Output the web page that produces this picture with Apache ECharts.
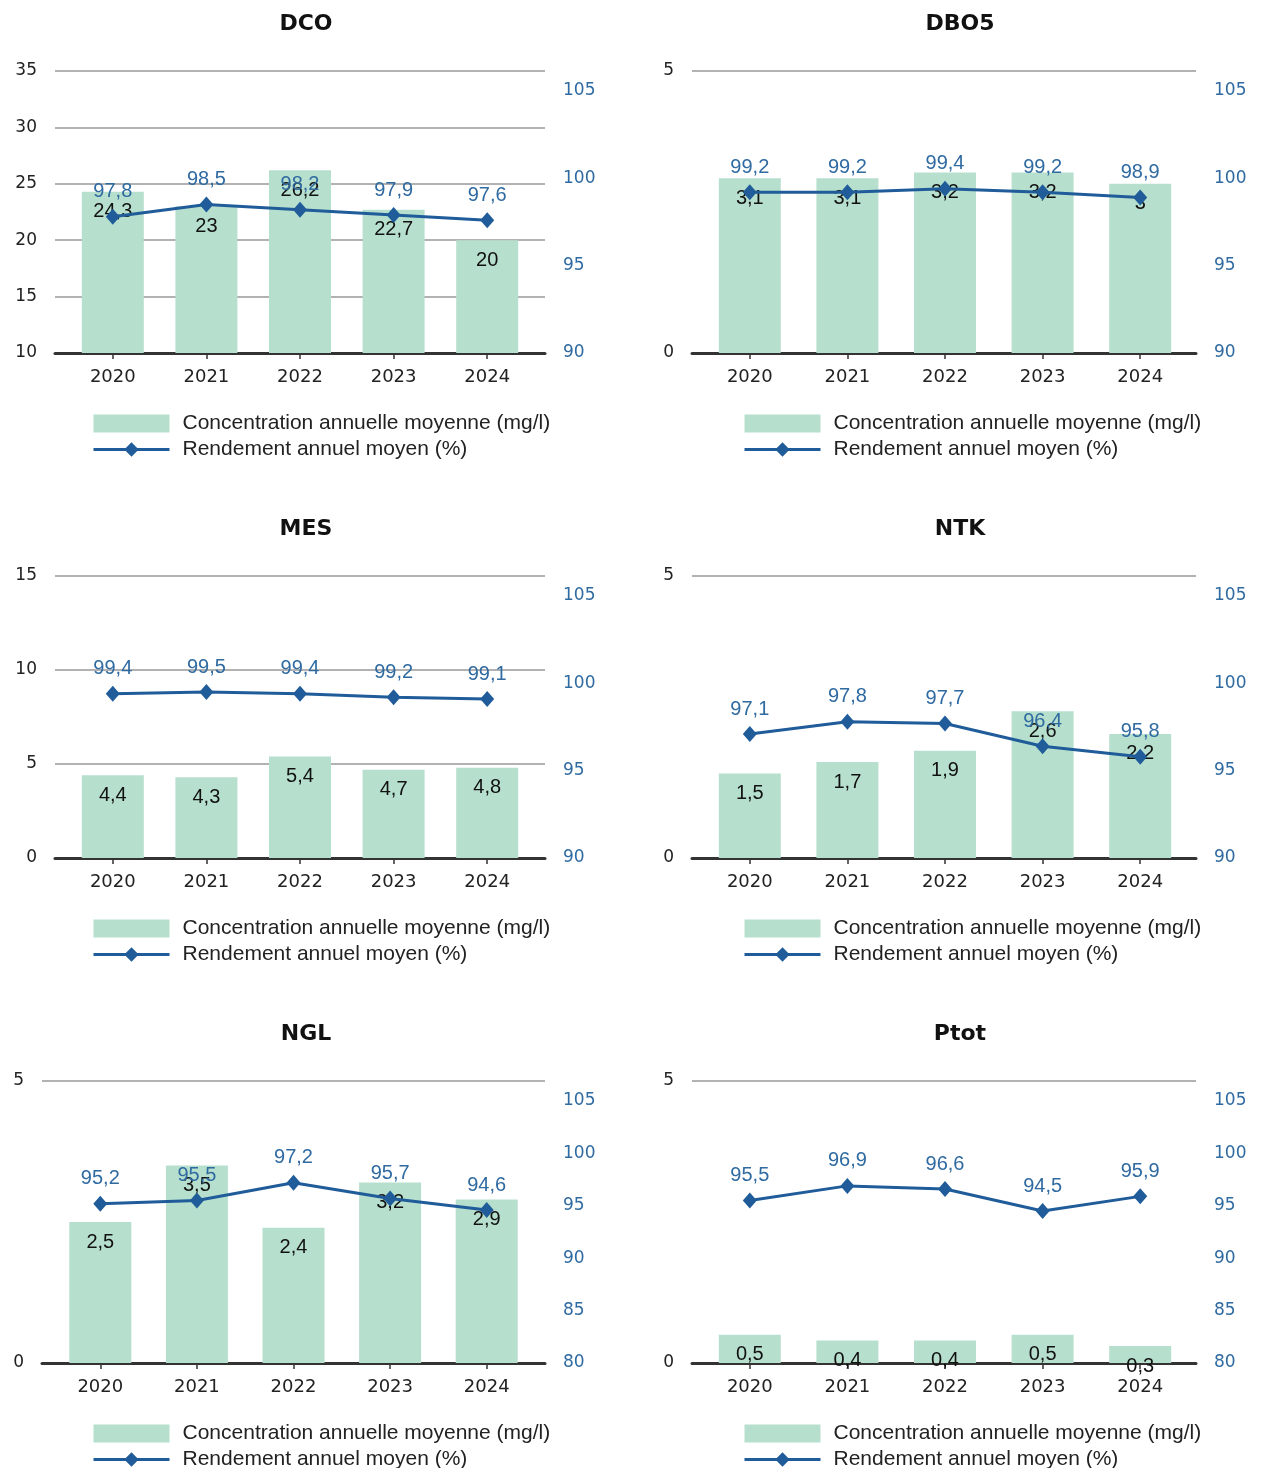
<!DOCTYPE html>
<html><head><meta charset="utf-8">
<script src="https://cdn.jsdelivr.net/npm/echarts/dist/echarts.min.js"></script>
<style>html,body{margin:0;padding:0;background:#fff;overflow:hidden}#c{width:1266px;height:1520px}</style>
</head><body><div id="c"></div>
<script>
// ---- data ----
const years = ['2020', '2021', '2022', '2023', '2024'];
const concName = 'Concentration annuelle moyenne (mg/l)';
const rendName = 'Rendement annuel moyen (%)';

const dcoConc = [24.3, 23, 26.2, 22.7, 20];
const dcoRend = [97.8, 98.5, 98.2, 97.9, 97.6];
const dbo5Conc = [3.1, 3.1, 3.2, 3.2, 3];
const dbo5Rend = [99.2, 99.2, 99.4, 99.2, 98.9];
const mesConc = [4.4, 4.3, 5.4, 4.7, 4.8];
const mesRend = [99.4, 99.5, 99.4, 99.2, 99.1];
const ntkConc = [1.5, 1.7, 1.9, 2.6, 2.2];
const ntkRend = [97.1, 97.8, 97.7, 96.4, 95.8];
const nglConc = [2.5, 3.5, 2.4, 3.2, 2.9];
const nglRend = [95.2, 95.5, 97.2, 95.7, 94.6];
const ptotConc = [0.5, 0.4, 0.4, 0.5, 0.3];
const ptotRend = [95.5, 96.9, 96.6, 94.5, 95.9];

// axis tick ranges [min, max, step]
const dcoConcTicks = [10, 35, 5];
const mesConcTicks = [0, 15, 5];
const smallConcTicks = [0, 5, 5];
const rendTicks90 = [90, 105, 5];
const rendTicks80 = [80, 105, 5];

// ---- layout ----
const charts = [
  {title: 'DCO',  conc: dcoConc,  rend: dcoRend,  cT: dcoConcTicks,   rT: rendTicks90, row: 0, col: 0},
  {title: 'DBO5', conc: dbo5Conc, rend: dbo5Rend, cT: smallConcTicks, rT: rendTicks90, row: 0, col: 1},
  {title: 'MES',  conc: mesConc,  rend: mesRend,  cT: mesConcTicks,   rT: rendTicks90, row: 1, col: 0},
  {title: 'NTK',  conc: ntkConc,  rend: ntkRend,  cT: smallConcTicks, rT: rendTicks90, row: 1, col: 1},
  {title: 'NGL',  conc: nglConc,  rend: nglRend,  cT: smallConcTicks, rT: rendTicks80, row: 2, col: 0, ngl: true},
  {title: 'Ptot', conc: ptotConc, rend: ptotRend, cT: smallConcTicks, rT: rendTicks80, row: 2, col: 1}
];

const BAR = '#b6dfcd', LINE = '#1f5c99', LBLUE = '#2f6aa1', DARK = '#222';
const fmt = v => String(v).replace('.', ',');
const PH = 282, TICKSPAN = 262;

const option = {
  animation: false, backgroundColor: '#fff',
  title: [], grid: [], xAxis: [], yAxis: [], series: [], legend: []
};

charts.forEach(c => {
  let gx, ix, tx, lx;
  if (c.col === 0) {
    gx = c.ngl ? [42, 545] : [55, 545];
    ix = c.ngl ? [52, 535] : [66, 534];
    tx = 306; lx = 92;
  } else {
    gx = [692, 1196]; ix = [701, 1189]; tx = 960; lx = 743;
  }
  const top = 71 + 505 * c.row;
  const g = option.grid.length, xa = option.xAxis.length, ya = option.yAxis.length;
  option.grid.push({left: gx[0], top: top, width: gx[1] - gx[0], height: PH, outerBoundsMode: 'none'});
  option.grid.push({left: ix[0], top: top, width: ix[1] - ix[0], height: PH, outerBoundsMode: 'none'});
  option.xAxis.push({type: 'value', gridIndex: g, min: 0, max: 1,
    axisLine: {show: true, onZero: false, lineStyle: {color: '#333', width: 3}},
    axisTick: {show: false}, axisLabel: {show: false}, splitLine: {show: false}});
  option.xAxis.push({type: 'category', gridIndex: g + 1, data: years,
    axisLine: {show: false, onZero: false},
    axisTick: {show: true, alignWithLabel: true, length: 6, lineStyle: {color: '#333', width: 1.5}},
    axisLabel: {interval: 0, margin: 15, color: DARK, fontFamily: 'DejaVu Sans', fontSize: 18}});
  option.yAxis.push({type: 'value', gridIndex: g, min: c.cT[0], max: c.cT[1], interval: c.cT[2],
    axisLine: {show: false}, axisTick: {show: false}, axisLabel: {show: false},
    splitLine: {show: true, lineStyle: {color: '#999', width: 1.5}}});
  option.yAxis.push({type: 'value', gridIndex: g + 1, position: 'left', min: c.cT[0], max: c.cT[1], interval: c.cT[2],
    axisLine: {show: false}, axisTick: {show: false}, splitLine: {show: false},
    axisLabel: {margin: 18 + ix[0] - gx[0], color: DARK, fontFamily: 'DejaVu Sans', fontSize: 17}});
  const rMax = c.rT[0] + (c.rT[1] - c.rT[0]) * PH / TICKSPAN;
  option.yAxis.push({type: 'value', gridIndex: g + 1, position: 'right', min: c.rT[0], max: rMax, interval: c.rT[2],
    axisLine: {show: false}, axisTick: {show: false}, splitLine: {show: false},
    axisLabel: {showMaxLabel: false, margin: 18 + gx[1] - ix[1], color: LBLUE, fontFamily: 'DejaVu Sans', fontSize: 17}});
  option.series.push({type: 'bar', name: concName, xAxisIndex: xa + 1, yAxisIndex: ya + 1, data: c.conc,
    barWidth: 62, itemStyle: {color: BAR},
    label: {show: true, position: 'insideTop', distance: 10, formatter: p => fmt(p.value),
      color: '#111', fontFamily: 'Liberation Sans', fontSize: 20}});
  option.series.push({type: 'line', name: rendName, xAxisIndex: xa + 1, yAxisIndex: ya + 2, data: c.rend,
    symbol: 'diamond', symbolSize: [14, 16], z: 3,
    lineStyle: {color: LINE, width: 3}, itemStyle: {color: LINE},
    label: {show: true, position: 'top', distance: 7, formatter: p => fmt(p.value),
      color: LBLUE, fontFamily: 'Liberation Sans', fontSize: 20}});
  option.title.push({text: c.title, left: tx, top: 13 + 505 * c.row, textAlign: 'center', padding: 0,
    textStyle: {fontFamily: 'DejaVu Sans', fontWeight: 'bold', fontSize: 22, color: '#111'}});
  option.legend.push({left: lx, top: 413 + 505 * c.row, orient: 'vertical', itemWidth: 76, itemHeight: 18, itemGap: 5,
    padding: 0, selectedMode: false,
    data: [{name: concName, icon: 'rect'}, {name: rendName, lineStyle: {width: 3, color: LINE}}],
    textStyle: {fontFamily: 'Liberation Sans', fontSize: 21, color: DARK, padding: [0, 0, 0, 8]}});
});

const chart = echarts.init(document.getElementById('c'), null, {renderer: 'canvas'});
chart.setOption(option);
</script></body></html>
